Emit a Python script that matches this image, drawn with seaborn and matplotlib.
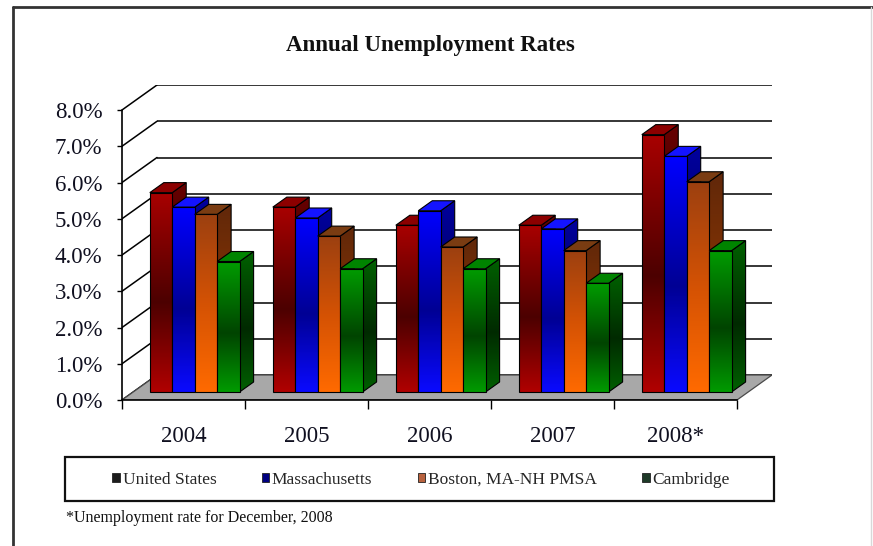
import numpy as np
import pandas as pd
import matplotlib
matplotlib.use("Agg")
import matplotlib.pyplot as plt
import seaborn as sns
from matplotlib.colors import LinearSegmentedColormap, to_rgb
from matplotlib.patches import Polygon, Rectangle, Patch
from matplotlib.lines import Line2D

# ---- data -------------------------------------------------------------
years = ["2004", "2005", "2006", "2007", "2008*"]
regions = ["United States", "Massachusetts", "Boston, MA-NH PMSA", "Cambridge"]
united_states = [5.5, 5.1, 4.6, 4.6, 7.1]
massachusetts = [5.1, 4.8, 5.0, 4.5, 6.5]
boston = [4.9, 4.3, 4.0, 3.9, 5.8]
cambridge = [3.6, 3.4, 3.4, 3.0, 3.9]
y_ticks = [0, 1, 2, 3, 4, 5, 6, 7, 8]
title = "Annual Unemployment Rates"
footnote = "*Unemployment rate for December, 2008"

series = [united_states, massachusetts, boston, cambridge]
df = pd.DataFrame(
    [(yr, reg, v) for reg, vals in zip(regions, series) for yr, v in zip(years, vals)],
    columns=["year", "region", "rate"],
)

# ---- styling ------------------------------------------------------------
# gradient stops from the bottom of a bar face to its top
face_stops = {
    "United States": [(0.0, "#b00000"), (0.45, "#4c0000"), (1.0, "#a80000")],
    "Massachusetts": [(0.0, "#0a0aff"), (0.45, "#000094"), (1.0, "#0000ff")],
    "Boston, MA-NH PMSA": [(0.0, "#ff6a00"), (0.5, "#d45204"), (1.0, "#9c4010")],
    "Cambridge": [(0.0, "#009a00"), (0.45, "#004400"), (1.0, "#009c00")],
}
top_colors = {
    "United States": "#8c0000",
    "Massachusetts": "#1414ff",
    "Boston, MA-NH PMSA": "#7a3c12",
    "Cambridge": "#008400",
}
legend_colors = {
    "United States": "#1c1c1c",
    "Massachusetts": "#000080",
    "Boston, MA-NH PMSA": "#b8623e",
    "Cambridge": "#1e3a28",
}
base_palette = {r: face_stops[r][-1][1] for r in regions}

sns.set_style("white")
plt.rcParams["font.family"] = ["Liberation Serif", "DejaVu Serif"]

W, H = 873, 546
fig = plt.figure(figsize=(W / 100, H / 100), dpi=100)
fig.patch.set_facecolor("white")

# plot box geometry (pixels)
px_left, px_base, px_cat, px_pct = 122, 400, 123.0, 36.25
depth_px = (35, 25)
DX = depth_px[0] / px_cat          # depth offset, category units
DY = depth_px[1] / px_pct          # depth offset, percent units
ax_w = 5 * px_cat + depth_px[0]
ax_h = 8 * px_pct + depth_px[1]
ax = fig.add_axes([px_left / W, (H - px_base) / H, ax_w / W, ax_h / H])
ax.patch.set_visible(False)

sns.barplot(
    data=df, x="year", y="rate", hue="region", order=years, hue_order=regions,
    palette=base_palette, width=0.73, gap=0, errorbar=None, legend=False, ax=ax,
)


def make_cmap(stops, scale=1.0):
    cols = [(p, tuple(np.clip(np.array(to_rgb(c)) * scale, 0, 1))) for p, c in stops]
    return LinearSegmentedColormap.from_list("g", cols)


def gradient_fill(clip, extent, cmap, z):
    t = np.linspace(0, 1, 200)
    img = cmap(t)[:, None, :]
    im = ax.imshow(img, extent=extent, origin="lower", aspect="auto",
                   interpolation="bilinear", zorder=z)
    im.set_clip_path(clip)


front_depth = 0.32   # fraction of the floor depth where the bar fronts stand
bar_depth = 0.40     # bar thickness as fraction of floor depth
bdx, bdy = bar_depth * DX, bar_depth * DY

for k, (reg, cont) in enumerate(zip(regions, ax.containers)):
    z = 3 + k * 0.1
    fcmap = make_cmap(face_stops[reg])
    scmap = make_cmap(face_stops[reg], 0.62)
    for bar in cont:
        x0 = bar.get_x() + front_depth * DX
        y0 = front_depth * DY
        w, h = bar.get_width(), bar.get_height()
        bar.set_x(x0)
        bar.set_y(y0)
        bar.set_facecolor("none")
        bar.set_edgecolor("black")
        bar.set_linewidth(0.8)
        bar.set_zorder(z + 0.03)
        gradient_fill(bar, (x0, x0 + w, y0, y0 + h), fcmap, z + 0.02)

        side = Polygon([(x0 + w, y0), (x0 + w + bdx, y0 + bdy),
                        (x0 + w + bdx, y0 + h + bdy), (x0 + w, y0 + h)],
                       closed=True, facecolor="none", edgecolor="black",
                       linewidth=0.8, zorder=z + 0.005)
        ax.add_patch(side)
        gradient_fill(side, (x0 + w, x0 + w + bdx, y0, y0 + h + bdy), scmap, z)

        top = Polygon([(x0, y0 + h), (x0 + w, y0 + h),
                       (x0 + w + bdx, y0 + h + bdy), (x0 + bdx, y0 + h + bdy)],
                      closed=True, facecolor=top_colors[reg], edgecolor="black",
                      linewidth=0.8, zorder=z + 0.006)
        ax.add_patch(top)

# floor
ax.add_patch(Polygon([(-0.5, 0), (4.5, 0), (4.5 + DX, DY), (-0.5 + DX, DY)],
                     closed=True, facecolor="#a8a8a8", edgecolor="#4a4a4a",
                     linewidth=0.9, zorder=1.5))

# back wall and side wall gridlines
for t in y_ticks:
    ax.plot([-0.5 + DX, 4.5 + DX], [t + DY, t + DY], color="black", lw=1.1,
            zorder=1, solid_capstyle="butt")
    ax.plot([-0.5, -0.5 + DX], [t, t + DY], color="black", lw=1.1, zorder=1)

# axes, ticks, labels
ax.set_xlim(-0.5, 4.5 + DX)
ax.set_ylim(0, 8 + DY)
ax.set_xlabel("")
ax.set_ylabel("")
for s in ("top", "right"):
    ax.spines[s].set_visible(False)
ax.spines["left"].set_bounds(0, 8)
ax.spines["bottom"].set_bounds(-0.5, 4.5)
for s in ("left", "bottom"):
    ax.spines[s].set_color("black")
    ax.spines[s].set_linewidth(1.2)
    ax.spines[s].set_zorder(6)

ax.set_yticks(y_ticks)
ax.set_yticklabels([f"{t:.1f}%" for t in y_ticks])
ax.set_xticks(range(len(years)))
ax.set_xticklabels(years)
ax.set_xticks(np.arange(-0.5, len(years), 1.0), minor=True)
ax.tick_params(axis="y", which="major", left=True, direction="out", length=3.6,
               width=1, color="black", pad=10.5, labelsize=16.5, labelcolor="#101020")
ax.tick_params(axis="x", which="major", bottom=True, length=0, pad=19,
               labelsize=16.5, labelcolor="#101020")
ax.tick_params(axis="x", which="minor", bottom=True, direction="out", length=6.5,
               width=1, color="black")

# title
fig.text(430 / W, 1 - 45 / H, title, ha="center", va="center",
         fontsize=16.5, fontweight="bold", color="#111111")

# legend with its own box
box = (65, 457, 774, 501)
fig.patches.append(Rectangle((box[0] / W, 1 - box[3] / H), (box[2] - box[0]) / W,
                             (box[3] - box[1]) / H, transform=fig.transFigure,
                             facecolor="none", edgecolor="#111111", linewidth=1.6))
handles = [Patch(facecolor=legend_colors[r], edgecolor="#222222", linewidth=0.6)
           for r in regions]
fig.legend(handles, regions, loc="center", ncol=4, frameon=False,
           bbox_to_anchor=(421 / W, 1 - 480 / H), fontsize=12.5,
           handlelength=0.45, handleheight=0.45, handletextpad=0.15,
           columnspacing=2.6, borderaxespad=0)

# footnote
fig.text(66 / W, 1 - 518 / H, footnote, ha="left", va="center",
         fontsize=11.5, color="#111111")

# outer frame
fig.lines.append(Line2D([13 / W, 1], [1 - 7 / H, 1 - 7 / H], transform=fig.transFigure,
                        color="#333333", lw=2))
fig.lines.append(Line2D([13 / W, 13 / W], [0, 1 - 7 / H], transform=fig.transFigure,
                        color="#333333", lw=2))
fig.lines.append(Line2D([871 / W, 871 / W], [0, 1 - 7 / H], transform=fig.transFigure,
                        color="#d8d8d8", lw=1))

fig.savefig("out.png", dpi=100, facecolor="white")
